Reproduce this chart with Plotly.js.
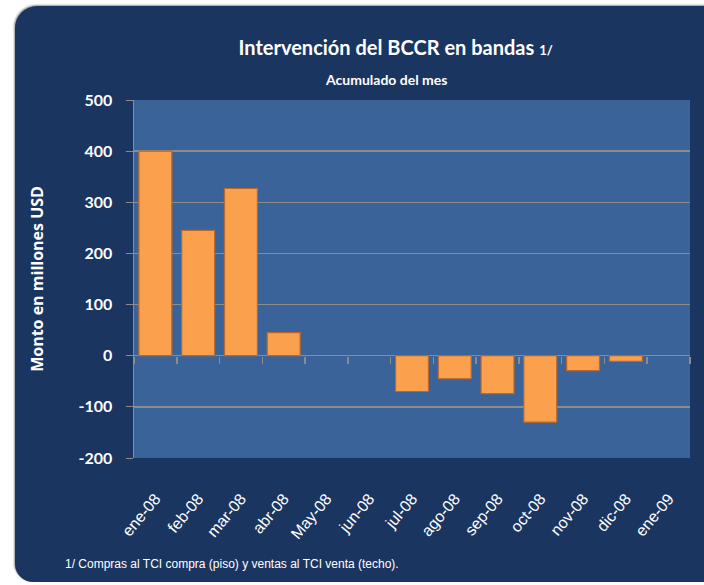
<!DOCTYPE html>
<html>
<head>
<meta charset="utf-8">
<script src="https://cdn.plot.ly/plotly-3.0.1.min.js"></script>
<style>
  html, body { margin: 0; padding: 0; background: #ffffff; }
  #panel {
    position: absolute; left: 15px; top: 6px; width: 720px; height: 576px;
    background: #1b3561; border-radius: 22px 0 0 18px;
    box-shadow: -1px -1px 2px #999;
  }
  #chart { position: absolute; left: 0; top: 0; width: 704px; height: 585px; }
</style>
</head>
<body>
<div id="panel"></div>
<div id="chart"></div>
<script>
// meses
var months = ['ene-08', 'feb-08', 'mar-08', 'abr-08', 'May-08', 'jun-08', 'jul-08',
              'ago-08', 'sep-08', 'oct-08', 'nov-08', 'dic-08', 'ene-09'];
// millones USD, acumulado del mes (sin barra = null)
var monto = [400, 245, 327, 45, null, null, -70, -45, -74, -130, -29, -11, null];

var yTicks = [-200, -100, 0, 100, 200, 300, 400, 500];
var yMin = -200, yMax = 500;

var data = [{
  type: 'bar',
  x: months,
  y: monto,
  marker: { color: '#fba04c', line: { color: '#b8682c', width: 1.2 } },
  hoverinfo: 'x+y'
}, {
  // traza vacia solo para dibujar las marcas del eje en cero
  type: 'bar',
  x: months,
  y: months.map(function () { return null; }),
  xaxis: 'x2',
  hoverinfo: 'skip'
}];

var layout = {
  width: 704, height: 585,
  paper_bgcolor: 'rgba(0,0,0,0)',
  plot_bgcolor: '#3a6499',
  margin: { l: 134, r: 14, t: 100, b: 127 },
  showlegend: false,
  bargap: 0.23,
  font: { family: 'Liberation Sans', color: '#ffffff' },
  title: {
    text: "<b>Intervención del BCCR en bandas <span style='font-size:13px'>1/</span></b>",
    font: { family: 'Lato', size: 20, color: '#ffffff' },
    xref: 'container', x: 0.562, xanchor: 'center',
    yref: 'container', y: 0.918, yanchor: 'middle'
  },
  xaxis: {
    type: 'category',
    tickangle: -50,
    tickfont: { family: 'Liberation Sans', size: 16, color: '#ffffff' },
    showgrid: false,
    showline: false,
    ticks: 'outside', ticklen: 24, tickcolor: 'rgba(0,0,0,0)',
    fixedrange: true
  },
  // marcas de separacion sobre la linea de cero
  xaxis2: {
    type: 'category',
    overlaying: 'x', anchor: 'free', side: 'bottom',
    position: (0 - yMin) / (yMax - yMin),
    tickson: 'boundaries',
    ticks: 'outside', ticklen: 7, tickwidth: 1.5, tickcolor: '#8c8c8c',
    showticklabels: false, showgrid: false, zeroline: false, showline: false,
    fixedrange: true
  },
  yaxis: {
    range: [yMin, yMax],
    tickvals: yTicks,
    ticktext: yTicks.map(String),
    tickfont: { family: 'Lato', size: 16, color: '#ffffff', weight: 'bold' },
    ticks: 'outside', ticklen: 7, tickcolor: '#8c8c8c',
    ticklabelstandoff: 10,
    gridcolor: '#8c8c8c', gridwidth: 1.5,
    zeroline: true, zerolinecolor: '#8c8c8c', zerolinewidth: 1.5,
    showline: true, linecolor: '#8c8c8c', linewidth: 1.5,
    title: {
      text: '<b>Monto en millones USD</b>',
      font: { family: 'Open Sans', size: 16, color: '#ffffff' },
      standoff: 31
    },
    fixedrange: true
  },
  annotations: [{
    xref: 'paper', yref: 'paper', x: 0.453, y: 1.056, xanchor: 'center', yanchor: 'middle',
    showarrow: false,
    text: '<b>Acumulado del mes</b>',
    font: { family: 'Lato', size: 14, color: '#ffffff' }
  }, {
    xref: 'paper', yref: 'paper', x: -0.128, y: -0.295, xanchor: 'left', yanchor: 'middle',
    showarrow: false,
    text: '1/ Compras al TCI compra (piso) y ventas al TCI venta (techo).',
    font: { family: 'Liberation Sans', size: 12, color: '#ffffff' }
  }]
};

Plotly.newPlot('chart', data, layout, { displayModeBar: false, staticPlot: true });
</script>
</body>
</html>
